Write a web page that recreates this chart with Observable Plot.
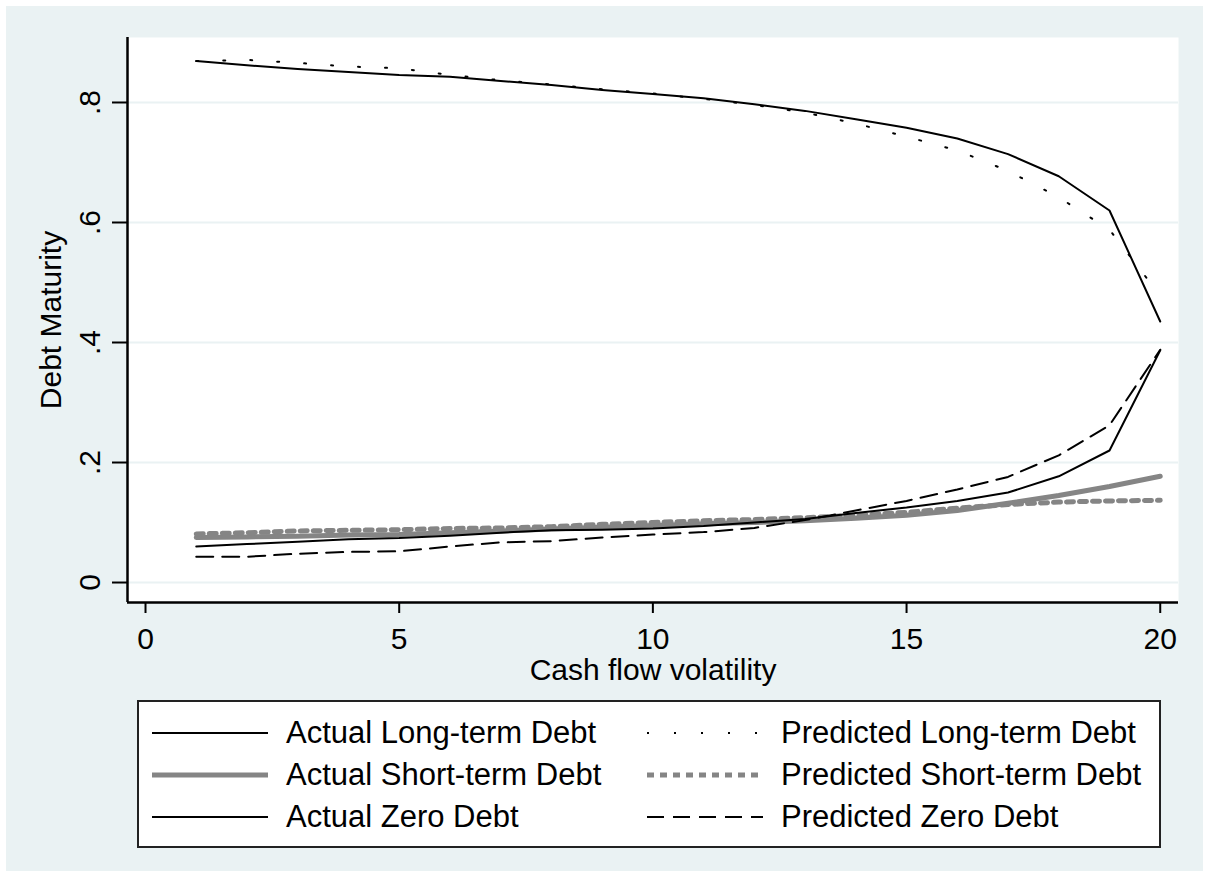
<!DOCTYPE html>
<html><head><meta charset="utf-8">
<script src="https://cdn.jsdelivr.net/npm/d3@7"></script>
<script src="https://cdn.jsdelivr.net/npm/@observablehq/plot@0.6"></script>
<style>
html,body{margin:0;padding:0;background:#fff;}
#page{position:relative;width:1209px;height:877px;overflow:hidden;background:#fff;font-family:"Liberation Sans",Arial,sans-serif;}
#bg{position:absolute;left:6px;top:6px;right:6px;bottom:6px;background:#eaf2f3;}
#chart{position:absolute;left:0;top:0;}
#legend{position:absolute;left:137px;top:700px;width:1024px;height:148px;box-sizing:border-box;border:2px solid #222;background:#fff;}
.item{position:absolute;display:flex;align-items:center;height:40px;font-size:31px;color:#000;white-space:nowrap;}
.item svg{margin-right:18px;flex:none;}
</style></head>
<body><div id="page"><div id="bg"></div><div id="chart"></div><div id="legend"></div></div>
<script>
const volatility = [1,2,3,4,5,6,7,8,9,10,11,12,13,14,15,16,17,18,19,20];
const actualLong  = [0.869,0.862,0.856,0.851,0.846,0.843,0.836,0.829,0.821,0.814,0.807,0.797,0.786,0.772,0.758,0.740,0.714,0.677,0.620,0.435];
const predLong    = [0.869,0.871,0.866,0.860,0.857,0.846,0.837,0.830,0.822,0.815,0.806,0.796,0.783,0.765,0.743,0.720,0.686,0.642,0.588,0.478];
const actualShort = [0.075,0.076,0.077,0.079,0.080,0.083,0.086,0.089,0.092,0.095,0.098,0.100,0.103,0.107,0.112,0.120,0.132,0.145,0.160,0.177];
const predShort   = [0.081,0.083,0.086,0.087,0.088,0.090,0.091,0.093,0.097,0.100,0.103,0.105,0.108,0.112,0.117,0.124,0.130,0.134,0.136,0.137];
const actualZero  = [0.060,0.064,0.068,0.072,0.074,0.078,0.083,0.087,0.088,0.090,0.094,0.100,0.106,0.116,0.125,0.136,0.150,0.177,0.220,0.387];
const predZero    = [0.043,0.043,0.048,0.051,0.052,0.060,0.067,0.069,0.075,0.080,0.084,0.091,0.104,0.120,0.136,0.155,0.176,0.212,0.262,0.388];
const seriesNames = ["Actual Long-term Debt","Predicted Long-term Debt","Actual Short-term Debt","Predicted Short-term Debt","Actual Zero Debt","Predicted Zero Debt"];
const xTicks = [0,5,10,15,20];
const yTicks = [0,0.2,0.4,0.6,0.8];
const xTitle = "Cash flow volatility";
const yTitle = "Debt Maturity";

const seriesValues = [actualLong, predLong, actualShort, predShort, actualZero, predZero];
const seriesStyle = [
  {stroke:"#000", strokeWidth:2, strokeDasharray:null},
  {stroke:"#000", strokeWidth:2, strokeDasharray:"2,25"},
  {stroke:"#858585", strokeWidth:5, strokeDasharray:null},
  {stroke:"#858585", strokeWidth:5, strokeDasharray:"7,6"},
  {stroke:"#000", strokeWidth:2, strokeDasharray:null},
  {stroke:"#000", strokeWidth:2, strokeDasharray:"17,9"}
];
const xDomain = [-0.355, 20.36];
const yDomain = [-0.0333, 0.9083];

const lineMarks = seriesNames.map((name, k) => {
  const rows = volatility.map((v, i) => ({x: v, y: seriesValues[k][i], series: name}));
  const s = seriesStyle[k];
  return Plot.line(rows, {x:"x", y:"y", stroke:s.stroke, strokeWidth:s.strokeWidth,
    strokeDasharray:s.strokeDasharray ?? undefined, strokeLinejoin:"round"});
});

const fmtY = d => d === 0 ? "0" : d3.format(".1f")(d).replace(/^0/, "");

const chart = Plot.plot({
  width:1209, height:695,
  marginLeft:127, marginRight:31, marginTop:37, marginBottom:93,
  style:{background:"transparent", fontFamily:"'Liberation Sans', Arial, sans-serif", fontSize:"30px", color:"#000"},
  x:{domain:xDomain},
  y:{domain:yDomain},
  marks:[
    Plot.frame({fill:"#fff", stroke:"none"}),
    Plot.gridY(yTicks, {stroke:"#eaf2f3", strokeOpacity:1, strokeWidth:2}),
    ...lineMarks,
    Plot.ruleX([xDomain[0]], {stroke:"#000", strokeWidth:2.5}),
    Plot.ruleY([yDomain[0]], {stroke:"#000", strokeWidth:2.5}),
    Plot.axisX(xTicks, {tickSize:11, tickPadding:14, fontSize:30, label:null, strokeWidth:2}),
    Plot.axisY(yTicks, {tickSize:15, tickPadding:13, tickRotate:-90, tickFormat:fmtY, fontSize:30, label:null, strokeWidth:2}),
    Plot.text([xTitle], {frameAnchor:"bottom", dy:77, lineAnchor:"bottom", textAnchor:"middle", fontSize:30}),
    Plot.text([yTitle], {frameAnchor:"left", rotate:-90, dx:-67, lineAnchor:"bottom", textAnchor:"middle", fontSize:30})
  ]
});
document.getElementById("chart").appendChild(chart);

// legend (row-wise, 2 columns, as in the original)
const legend = document.getElementById("legend");
const colLeft = [13, 508];
const rowTop = [11, 53, 95];
seriesNames.forEach((name, k) => {
  const s = seriesStyle[k];
  const item = document.createElement("div");
  item.className = "item";
  item.style.left = colLeft[k % 2] + "px";
  item.style.top = rowTop[Math.floor(k / 2)] + "px";
  const ns = "http://www.w3.org/2000/svg";
  const svg = document.createElementNS(ns, "svg");
  svg.setAttribute("width", 116); svg.setAttribute("height", 12);
  const ln = document.createElementNS(ns, "line");
  ln.setAttribute("x1", 0); ln.setAttribute("x2", 116);
  ln.setAttribute("y1", 6); ln.setAttribute("y2", 6);
  ln.setAttribute("stroke", s.stroke);
  ln.setAttribute("stroke-width", s.strokeWidth);
  if (s.strokeDasharray) ln.setAttribute("stroke-dasharray", s.strokeDasharray);
  svg.appendChild(ln);
  const span = document.createElement("span");
  span.textContent = name;
  item.appendChild(svg); item.appendChild(span);
  legend.appendChild(item);
});
</script>
</body></html>
